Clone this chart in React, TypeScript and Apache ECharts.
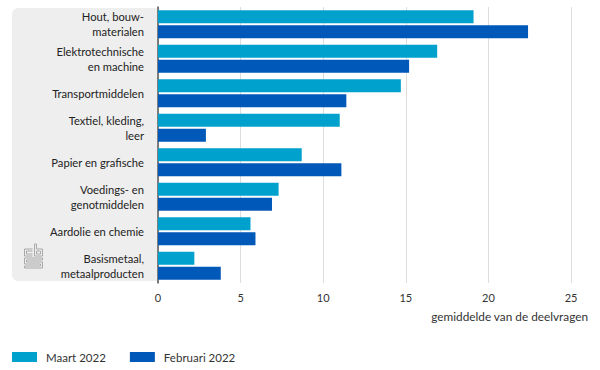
import React, { useEffect, useRef } from "react";
import * as echarts from "echarts";

const categories = [
  "Hout, bouw-\nmaterialen",
  "Elektrotechnische\nen machine",
  "Transportmiddelen",
  "Textiel, kleding,\nleer",
  "Papier en grafische",
  "Voedings- en\ngenotmiddelen",
  "Aardolie en chemie",
  "Basismetaal,\nmetaalproducten",
];
const maart2022 = [19.1, 16.9, 14.7, 11.0, 8.7, 7.3, 5.6, 2.2];
const februari2022 = [22.4, 15.2, 11.4, 2.9, 11.1, 6.9, 5.9, 3.8];
const seriesNames = ["Maart 2022", "Februari 2022"];
const axisTitle = "gemiddelde van de deelvragen";

const logoPath =
  "M9 5 H1 V12 H9 M9 7 H3 V10 H9 " +
  "M11 0 V12 H19 V5 H13 V0 Z M13 7 H17 V10 H13 Z " +
  "M19 14 H1 V20 H17 V22 H1 V24 H19 V18 H3 V16 H19 Z";

let registered = false;

export default function App() {
  const ref = useRef<HTMLDivElement>(null);
  useEffect(() => {
    if (!registered) {
      echarts.graphic.registerShape("logo", echarts.graphic.extendPath(logoPath, {}) as any);
      registered = true;
    }
    const chart = echarts.init(ref.current!, undefined, { renderer: "svg" });
    const font = "Lato";
    chart.setOption({
      animation: false,
      textStyle: { fontFamily: font },
      grid: { left: 158, right: 29, top: 7, bottom: 87 },
      graphic: [
        {
          type: "rect",
          z: -10,
          shape: { x: 12, y: 8, width: 145, height: 273, r: [6, 0, 0, 6] },
          style: { fill: "#eeeeee" },
        },
        {
          type: "logo",
          x: 23.5,
          y: 244,
          scaleX: 1,
          scaleY: 1,
          style: { fill: "none", stroke: "#a8a8a8", lineWidth: 1 },
        },
        {
          type: "text",
          x: 588,
          y: 316,
          style: {
            text: axisTitle,
            align: "right",
            verticalAlign: "middle",
            fontFamily: font,
            fontSize: 11.8,
            fill: "#333",
          },
        },
      ],
      legend: {
        left: 12,
        top: 351,
        padding: 0,
        icon: "rect",
        itemWidth: 25,
        itemHeight: 10,
        itemGap: 24,
        textStyle: { fontFamily: font, fontSize: 11.5, color: "#333", padding: [0, 0, 0, 4] },
        data: seriesNames,
      },
      xAxis: {
        type: "value",
        min: 0,
        max: 25,
        interval: 5,
        axisLine: { show: false },
        axisTick: { show: false },
        axisLabel: { color: "#333", fontSize: 11, margin: 9, fontFamily: font },
        splitLine: { lineStyle: { color: "#dddddd", width: 1 } },
      },
      yAxis: {
        type: "category",
        inverse: true,
        data: categories,
        axisLine: { show: true, lineStyle: { color: "#555", width: 1.5 } },
        axisTick: { show: false },
        axisLabel: {
          color: "#222",
          fontSize: 11.2,
          lineHeight: 15,
          margin: 14,
          align: "right",
          fontFamily: font,
        },
      },
      series: [
        {
          name: seriesNames[0],
          type: "bar",
          data: maart2022,
          barWidth: 13,
          barGap: "15%",
          itemStyle: { color: "#00a1cd" },
        },
        {
          name: seriesNames[1],
          type: "bar",
          data: februari2022,
          barWidth: 13,
          itemStyle: { color: "#0058b8" },
        },
      ],
    });
    return () => chart.dispose();
  }, []);
  return (
    <div
      ref={ref}
      style={{ position: "absolute", left: 0, top: 0, width: 600, height: 370 }}
    />
  );
}
